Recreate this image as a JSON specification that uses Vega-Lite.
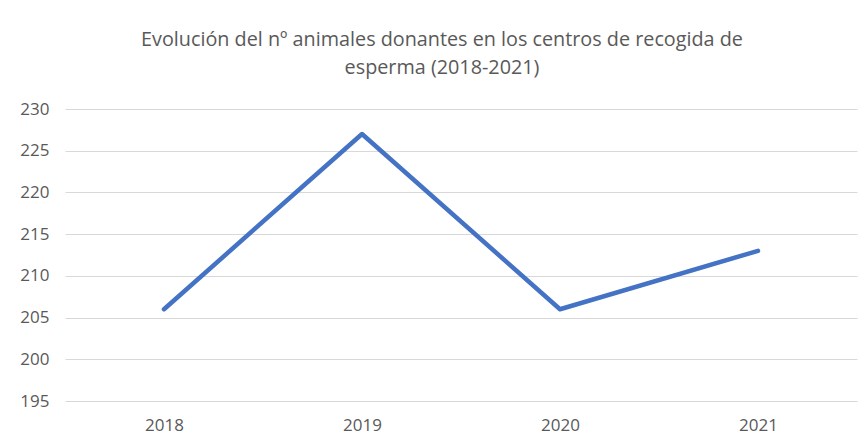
{
  "$schema": "https://vega.github.io/schema/vega-lite/v6.json",
  "width": 792,
  "height": 292,
  "autosize": {"type": "none"},
  "padding": {"left": 65, "top": 109, "right": 4, "bottom": 40},
  "background": "white",
  "title": {
    "text": ["Evolución del nº animales donantes en los centros de recogida de", "esperma (2018-2021)"],
    "anchor": "middle",
    "dx": -19,
    "offset": 22,
    "font": "Open Sans",
    "fontSize": 19.8,
    "fontWeight": "normal",
    "color": "#595959",
    "lineHeight": 28
  },
  "data": {
    "values": [
      {"year": "2018", "value": 206},
      {"year": "2019", "value": 227},
      {"year": "2020", "value": 206},
      {"year": "2021", "value": 213}
    ]
  },
  "mark": {"type": "line", "color": "#4472C4", "strokeWidth": 4.5, "strokeCap": "round", "strokeJoin": "round"},
  "encoding": {
    "x": {
      "field": "year",
      "type": "ordinal",
      "scale": {"type": "point", "padding": 0.5},
      "axis": {
        "title": null,
        "labelAngle": 0,
        "domain": false,
        "ticks": false,
        "grid": false,
        "labelPadding": 16,
        "labelFont": "Open Sans",
        "labelFontSize": 17,
        "labelColor": "#595959"
      }
    },
    "y": {
      "field": "value",
      "type": "quantitative",
      "scale": {"domain": [195, 230], "nice": false, "zero": false},
      "axis": {
        "title": null,
        "values": [195, 200, 205, 210, 215, 220, 225, 230],
        "domain": false,
        "ticks": false,
        "gridColor": "#d9d9d9",
        "gridWidth": 1,
        "labelPadding": 16,
        "labelFont": "Open Sans",
        "labelFontSize": 17,
        "labelColor": "#595959"
      }
    }
  },
  "config": {"view": {"stroke": null}}
}
